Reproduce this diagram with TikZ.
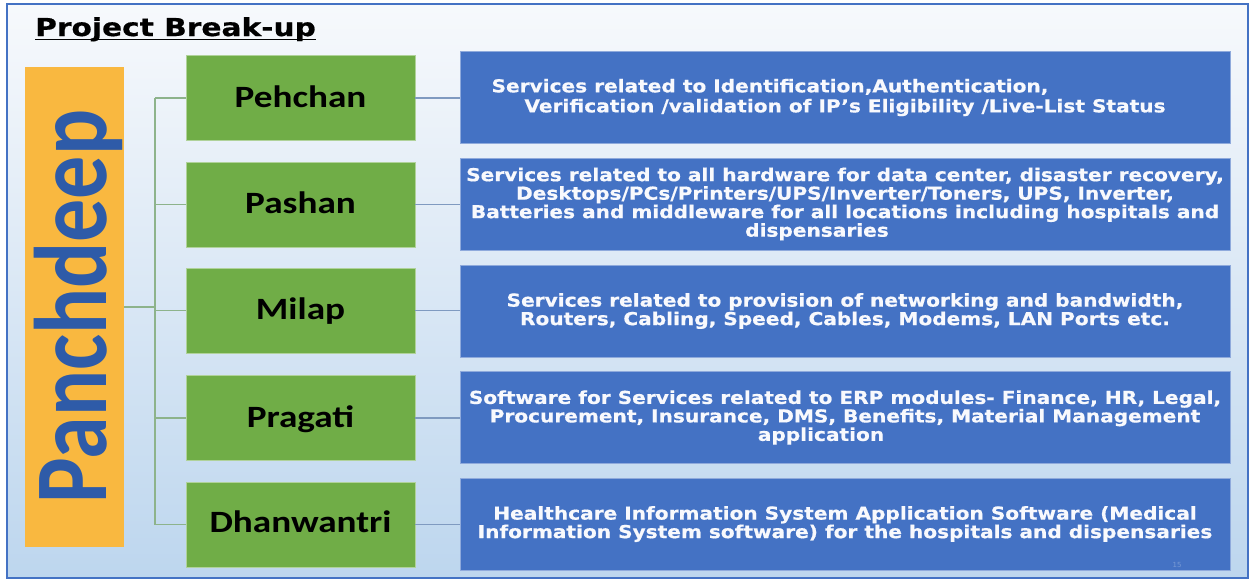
\documentclass[tikz,border=0pt]{standalone}
\usepackage{fontspec}
\setmainfont{DejaVu Sans}
\newfontfamily\bluefont[FakeStretch=1.13,FakeBold=0.6]{DejaVu Sans}
\newfontfamily\titlefont[FakeStretch=1.2,FakeBold=0.6]{DejaVu Sans}
\newfontfamily\greenfont[FakeStretch=1.2]{Carlito}
\newfontfamily\panfont{Carlito}
\definecolor{frameblue}{HTML}{4472C4}
\definecolor{boxblue}{HTML}{4472C4}
\definecolor{boxgreen}{HTML}{70AD47}
\definecolor{orangebox}{HTML}{F9B840}
\definecolor{panblue}{HTML}{2E5BA8}
\definecolor{treeline}{HTML}{8DB38B}
\definecolor{linkline}{HTML}{7F9AC0}
\definecolor{bgtop}{HTML}{F7F9FC}
\definecolor{bgbot}{HTML}{BDD6EE}
\tikzset{
  greenbox/.style={fill=boxgreen, draw=boxgreen!55!white, line width=0.8pt,
    minimum width=229pt, minimum height=85pt, inner sep=0pt},
  greenlabel/.style={anchor=base, inner sep=0pt, text=black,
    font=\greenfont\bfseries\fontsize{31}{34}\selectfont},
  bluebox/.style={fill=boxblue, draw=boxblue!60!white, line width=0.8pt,
    minimum width=770pt, minimum height=92pt, inner sep=0pt, align=center,
    text=white!96!boxblue, font=\bluefont\bfseries\fontsize{17.8}{18.5}\selectfont},
  tree/.style={draw=treeline, line width=1.3pt},
  link/.style={draw=linkline, line width=1.3pt}
}
\begin{document}
\begin{tikzpicture}[x=1pt,y=-1pt]
\useasboundingbox (0,0) rectangle (1252,582);
\fill[white] (0,0) rectangle (1252,582);
\shade[top color=bgtop, bottom color=bgbot] (7,4) rectangle (1248,578);
\draw[frameblue, line width=2pt] (7,4) rectangle (1248,578);

% title
\node[anchor=base west, inner sep=0pt, font=\titlefont\bfseries\fontsize{24.7}{28}\selectfont] (title) at (35,36) {Project Break-up};
\draw[line width=1.8pt] ([yshift=-3.5pt]title.base west) -- ([yshift=-3.5pt]title.base east);

% Panchdeep
\node[fill=orangebox, minimum width=99pt, minimum height=480pt, inner sep=0pt] (pan) at (74.5,307) {};
\node[inner sep=0pt, text=panblue] (pantext) at (78.5,306.5)
  {\scalebox{1.2}[1]{\rotatebox{90}{\panfont\bfseries\fontsize{86}{90}\selectfont Panchdeep}}};

% green boxes
\node[greenbox] (g1) at (300.5,98) {};
\node[greenbox] (g2) at (300.5,204.5) {};
\node[greenbox] (g3) at (300.5,310.5) {};
\node[greenbox] (g4) at (300.5,418) {};
\node[greenbox] (g5) at (300.5,524.5) {};
\node[greenlabel] (l1) at (300.5,107.5) {Pehchan};
\node[greenlabel] (l2) at (300.5,213.5) {Pashan};
\node[greenlabel] (l3) at (300.5,319.5) {Milap};
\node[greenlabel] (l4) at (300.5,427) {Pragati};
\node[greenlabel] (l5) at (300.5,532.5) {Dhanwantri};

% tree
\coordinate (trunk) at (155,307);
\coordinate (t1) at (155,98);
\coordinate (t5) at (155,524.5);
\draw[tree] (pan.east |- trunk) -- (trunk);
\draw[tree] (t1) -- (t5);
\foreach \g in {g1,g2,g3,g4,g5} \draw[tree] (trunk |- \g.west) -- (\g.west);

% blue boxes
\node[bluebox, font=\bluefont\bfseries\fontsize{17.8}{20}\selectfont] (b1) at (845,97.5)
  {Services related to Identification,Authentication,\makebox[150pt]{}\\
   Verification /validation of IP’s Eligibility /Live-List Status};
\node[bluebox] (b2) at (845,204)
  {Services related to all hardware for data center, disaster recovery,\\
   Desktops/PCs/Printers/UPS/Inverter/Toners, UPS, Inverter,\\
   Batteries and middleware for all locations including hospitals and\\
   dispensaries\makebox[56pt]{}};
\node[bluebox] (b3) at (845,311)
  {Services related to provision of networking and bandwidth,\\
   Routers, Cabling, Speed, Cables, Modems, LAN Ports etc.};
\node[bluebox] (b4) at (845,417.5)
  {Software for Services related to ERP modules- Finance, HR, Legal,\\
   Procurement, Insurance, DMS, Benefits, Material Management\\
   application\makebox[48pt]{}};
\node[bluebox] (b5) at (845,524)
  {Healthcare Information System Application Software (Medical\\
   Information System software) for the hospitals and dispensaries};

% links
\foreach \i in {1,...,5} \draw[link] (g\i.east) -- (b\i.west |- g\i.east);

% page number
\node[inner sep=0pt, text=boxblue!72!white, font=\fontsize{7}{7}\selectfont] (pgno) at (1177,565) {15};
\end{tikzpicture}
\end{document}
